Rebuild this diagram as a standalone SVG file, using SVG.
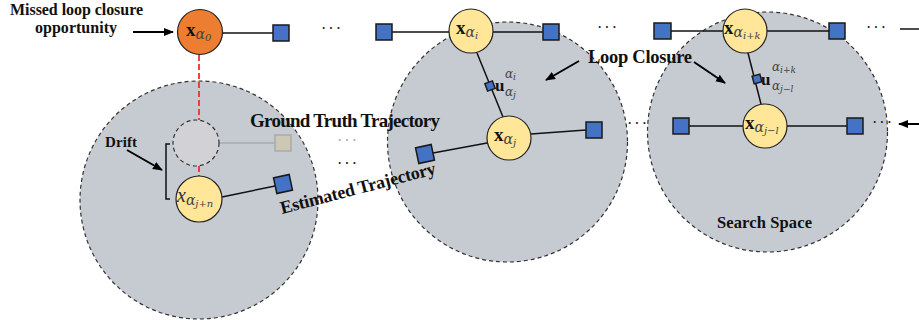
<svg xmlns="http://www.w3.org/2000/svg" width="919" height="320" viewBox="0 0 919 320">
<defs>
<style>
.region{fill:#c6cad1;stroke:#333;stroke-width:1.2;stroke-dasharray:4 3}
.var{fill:#ffe699;stroke:#222;stroke-width:1.2}
.miss{fill:#ed7d31;stroke:#222;stroke-width:1.2}
.ghost{fill:#d2d1d5;stroke:#333;stroke-width:1.2;stroke-dasharray:4 3}
.fac{fill:#4472c4;stroke:#1a1a1a;stroke-width:1.5}
.gfac{fill:#cdc7b5;stroke:#aaa;stroke-width:1.5}
.edge{stroke:#111;stroke-width:1.5;fill:none}
.gedge{stroke:#aaa;stroke-width:1.5;fill:none}
.red{stroke:#f0302c;stroke-width:1.8;stroke-dasharray:6 3;fill:none}
.arr{stroke:#000;stroke-width:2;fill:none;marker-end:url(#ah)}
.lbl{font-family:"Liberation Serif",serif;font-weight:bold;font-size:16px;fill:#111}
.mx{font-family:"Liberation Serif",serif;font-weight:bold;font-size:19px;fill:#111}
.ms{font-family:"DejaVu Serif","Liberation Serif",serif;font-style:italic;font-size:14px;fill:#444}
.mss{font-family:"DejaVu Serif","Liberation Serif",serif;font-style:italic;font-size:10px;fill:#444}
.us{font-family:"DejaVu Serif","Liberation Serif",serif;font-style:italic;font-size:12px;fill:#444}
.uss{font-family:"DejaVu Serif","Liberation Serif",serif;font-style:italic;font-size:9px;fill:#444}
.u{font-family:"Liberation Serif",serif;font-weight:bold;font-size:17px;fill:#111}
.mxi{font-family:"Liberation Serif",serif;font-style:italic;font-size:20px;fill:#333}
.dots{font-family:"Liberation Serif",serif;font-size:16px;fill:#111;letter-spacing:2px}
</style>
<marker id="ah" viewBox="0 0 10 10" refX="9" refY="5" markerWidth="5" markerHeight="5" orient="auto">
<path d="M0,1 L10,5 L0,9 Z" fill="#000"/>
</marker>
</defs>

<g id="regions">
<circle class="region" cx="199" cy="200" r="119"/>
<circle class="region" cx="507.5" cy="142" r="120"/>
<circle class="region" cx="767.5" cy="132" r="120"/>
</g>

<g id="connectors">
<line class="edge" x1="222" y1="33" x2="273" y2="33"/>
<line class="edge" x1="392" y1="32" x2="449" y2="32"/>
<line class="edge" x1="493" y1="32" x2="543" y2="32"/>
<line class="edge" x1="671" y1="31" x2="723" y2="31"/>
<line class="edge" x1="767" y1="31" x2="829" y2="31"/>
<line class="edge" x1="900" y1="29" x2="919" y2="29"/>
<line class="edge" x1="477" y1="53" x2="503" y2="117"/>
<line class="edge" x1="748" y1="53" x2="761" y2="104"/>
<line class="edge" x1="487" y1="143" x2="433" y2="153"/>
<line class="edge" x1="531" y1="134" x2="586" y2="130"/>
<line class="edge" x1="689" y1="126" x2="743" y2="126"/>
<line class="edge" x1="787" y1="126" x2="847" y2="126"/>
<line class="edge" x1="222" y1="197" x2="275" y2="186"/>
<line class="gedge" x1="219" y1="143" x2="275" y2="143"/>
<line class="red" x1="199" y1="55" x2="199" y2="120"/>
<line class="red" x1="199" y1="166" x2="199" y2="176"/>
<path class="edge" d="M170,144 H166 V199 H170"/>
<line class="arr" x1="133" y1="32" x2="173" y2="32"/>
<line class="arr" x1="127" y1="150" x2="162" y2="170"/>
<line class="arr" x1="579" y1="61" x2="546" y2="80"/>
<line class="arr" x1="694" y1="62" x2="725" y2="83"/>
<line class="arr" x1="919" y1="124" x2="899" y2="124"/>
</g>

<g id="factors">
<rect class="fac" x="273" y="25" width="16" height="16"/>
<rect class="fac" x="376" y="24" width="16" height="16"/>
<rect class="fac" x="543" y="24" width="16" height="16"/>
<rect class="fac" x="654" y="23" width="17" height="16"/>
<rect class="fac" x="829" y="23" width="16" height="16"/>
<rect class="fac" x="586" y="122" width="16" height="16"/>
<rect class="fac" x="673" y="118" width="16" height="16"/>
<rect class="fac" x="847" y="118" width="16" height="16"/>
<rect class="fac" x="-8" y="-8" width="16" height="16" transform="translate(425,154) rotate(-12)"/>
<rect class="fac" x="-8" y="-8" width="16" height="16" transform="translate(283,184) rotate(-12)"/>
<rect class="gfac" x="275" y="135" width="16" height="16"/>
<rect class="fac" x="-4" y="-4" width="8" height="8" transform="translate(490,86) rotate(-20)"/>
<rect class="fac" x="-4" y="-4" width="8" height="8" transform="translate(757,79) rotate(-15)"/>
</g>

<g id="node-x0">
<circle class="miss" cx="200" cy="32" r="22.5"/>
<text x="186" y="36"><tspan class="mx">x</tspan><tspan class="ms" dy="3">α</tspan><tspan class="mss" dy="2">0</tspan></text>
</g>
<g id="node-xi">
<circle class="var" cx="471" cy="31" r="22"/>
<text x="456" y="34"><tspan class="mx">x</tspan><tspan class="ms" dy="3">α</tspan><tspan class="mss" dy="2">i</tspan></text>
</g>
<g id="node-xik">
<circle class="var" cx="745" cy="31" r="22"/>
<text x="724" y="34"><tspan class="mx">x</tspan><tspan class="ms" dy="3">α</tspan><tspan class="mss" dy="2">i+k</tspan></text>
</g>
<g id="node-xj">
<circle class="var" cx="509" cy="138" r="22"/>
<text x="494" y="141"><tspan class="mx">x</tspan><tspan class="ms" dy="3">α</tspan><tspan class="mss" dy="2">j</tspan></text>
</g>
<g id="node-xjl">
<circle class="var" cx="765" cy="126" r="22"/>
<text x="745" y="129"><tspan class="mx">x</tspan><tspan class="ms" dy="3">α</tspan><tspan class="mss" dy="2">j−l</tspan></text>
</g>
<g id="node-ghost">
<circle class="ghost" cx="196" cy="143" r="23"/>
</g>
<g id="node-xjn">
<circle class="var" cx="199" cy="199" r="23"/>
<text x="177" y="202"><tspan class="mxi">x</tspan><tspan class="ms" dy="3">α</tspan><tspan class="mss" dy="2">j+n</tspan></text>
</g>

<g id="u-labels">
<text class="u" x="495" y="91">u</text>
<text x="505" y="78"><tspan class="us">α</tspan><tspan class="uss" dy="2">i</tspan></text>
<text x="505" y="96"><tspan class="us">α</tspan><tspan class="uss" dy="2">j</tspan></text>
<text class="u" x="761" y="85">u</text>
<text x="772" y="71"><tspan class="us">α</tspan><tspan class="uss" dy="2">i+k</tspan></text>
<text x="772" y="90"><tspan class="us">α</tspan><tspan class="uss" dy="2">j−l</tspan></text>
</g>

<g id="dots">
<text class="dots" x="321" y="34">···</text>
<text class="dots" x="597" y="33">···</text>
<text class="dots" x="866" y="33">···</text>
<text class="dots" x="627" y="129">···</text>
<text class="dots" x="872" y="128">···</text>
<text class="dots" x="337" y="169">···</text>
<text class="dots" x="337" y="146" style="fill:#aaa">···</text>
</g>

<g id="labels">
<text class="lbl" x="10" y="15" textLength="133">Missed loop closure</text>
<text class="lbl" x="35" y="33" textLength="82">opportunity</text>
<text class="lbl" x="105" y="147" style="font-size:15px" textLength="32">Drift</text>
<text class="lbl" x="250" y="127" style="font-size:19px" textLength="190">Ground Truth Trajectory</text>
<text class="lbl" x="0" y="0" style="font-size:18px" textLength="160" transform="translate(282,214) rotate(-14.6)">Estimated Trajectory</text>
<text class="lbl" x="588" y="63" style="font-size:18.5px" textLength="104">Loop Closure</text>
<text class="lbl" x="717" y="228" style="font-size:16.5px" textLength="95">Search Space</text>
</g>
</svg>
